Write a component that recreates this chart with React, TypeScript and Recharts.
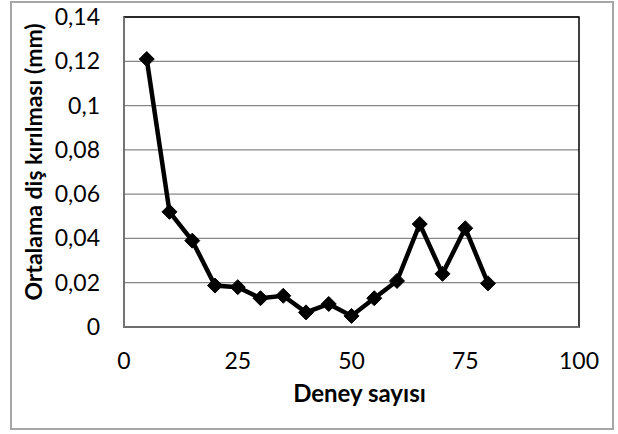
import React from 'react';
import { LineChart, Line, XAxis, YAxis, CartesianGrid, ReferenceArea, Label } from 'recharts';

const experiments = [5, 10, 15, 20, 25, 30, 35, 40, 45, 50, 55, 60, 65, 70, 75, 80];
const avgBreakage = [0.121, 0.052, 0.039, 0.0187, 0.018, 0.013, 0.0141, 0.0066, 0.0104, 0.005, 0.013, 0.0208, 0.0465, 0.024, 0.0446, 0.0197];
const xTicks = [0, 25, 50, 75, 100];
const yTicks = [0, 0.02, 0.04, 0.06, 0.08, 0.1, 0.12, 0.14];
const xTitle = 'Deney sayısı';
const yTitle = 'Ortalama diş kırılması (mm)';

const data = experiments.map((x, i) => ({ x, y: avgBreakage[i] }));

const FONT = 'Lato, "Open Sans", sans-serif';
const TICK_SIZE = 23;

const fmtY = (v: number) => String(Number(v.toFixed(2))).replace('.', ',');

const Diamond = (props: any) => {
  const { cx, cy } = props;
  if (cx == null || cy == null) return null;
  const r = 7.5;
  return (
    <polygon
      points={`${cx},${cy - r} ${cx + r},${cy} ${cx},${cy + r} ${cx - r},${cy}`}
      fill="#000"
      stroke="#000"
    />
  );
};

const XTick = (props: any) => {
  const { x, y, payload } = props;
  return (
    <text x={x} y={y + 42} textAnchor="middle" fill="#000" fontSize={TICK_SIZE} fontFamily={FONT}>
      {String(payload.value)}
    </text>
  );
};

const YTick = (props: any) => {
  const { x, y, payload } = props;
  return (
    <text x={x} y={y + 8} textAnchor="end" fill="#000" fontSize={TICK_SIZE} fontFamily={FONT}>
      {fmtY(payload.value)}
    </text>
  );
};

const XTitle = (props: any) => {
  const vb = props.viewBox || {};
  const cx = vb.x + vb.width / 2 + 8;
  return (
    <text x={cx} y={402} textAnchor="middle" fill="#000" fontSize={24} fontWeight={700} fontFamily={FONT}>
      {xTitle}
    </text>
  );
};

const YTitle = (props: any) => {
  const vb = props.viewBox || {};
  const cy = vb.y + vb.height / 2 - 10;
  const bx = 42;
  return (
    <text
      x={bx}
      y={cy}
      transform={`rotate(-90, ${bx}, ${cy})`}
      textAnchor="middle"
      fill="#000"
      fontSize={23}
      fontWeight={700}
      fontFamily={FONT}
    >
      {yTitle}
    </text>
  );
};

export default function App() {
  return (
    <div style={{ position: 'absolute', left: 0, top: 0, width: 618, height: 434, background: '#fff' }}>
      <div
        style={{
          position: 'absolute',
          left: 10,
          top: 1,
          width: 604,
          height: 429,
          border: '2px solid #a6a6a6',
          boxSizing: 'border-box',
        }}
      />
      <div style={{ position: 'absolute', left: 0, top: 0 }}>
        <LineChart width={618} height={434} data={data} margin={{ top: 17, right: 39, left: 0, bottom: 0 }}>
          <CartesianGrid vertical={false} stroke="#868686" strokeWidth={1.3} />
          <ReferenceArea x1={0} x2={100} y1={0} y2={0.14} fill="none" stroke="#000" strokeWidth={1.5} ifOverflow="visible" />
          <XAxis
            type="number"
            dataKey="x"
            domain={[0, 100]}
            ticks={xTicks}
            tickLine={false}
            axisLine={{ stroke: '#868686', strokeWidth: 1.5 }}
            tick={<XTick />}
            tickSize={0}
            tickMargin={0}
            height={107}
          >
            <Label content={<XTitle />} />
          </XAxis>
          <YAxis
            type="number"
            dataKey="y"
            domain={[0, 0.14]}
            ticks={yTicks}
            tickLine={false}
            axisLine={{ stroke: '#868686', strokeWidth: 1.5 }}
            tick={<YTick />}
            tickSize={0}
            tickMargin={24}
            width={124}
          >
            <Label content={<YTitle />} />
          </YAxis>
          <Line
            type="linear"
            dataKey="y"
            stroke="#000"
            strokeWidth={4.5}
            dot={<Diamond />}
            activeDot={false}
            isAnimationActive={false}
          />
        </LineChart>
      </div>
    </div>
  );
}
